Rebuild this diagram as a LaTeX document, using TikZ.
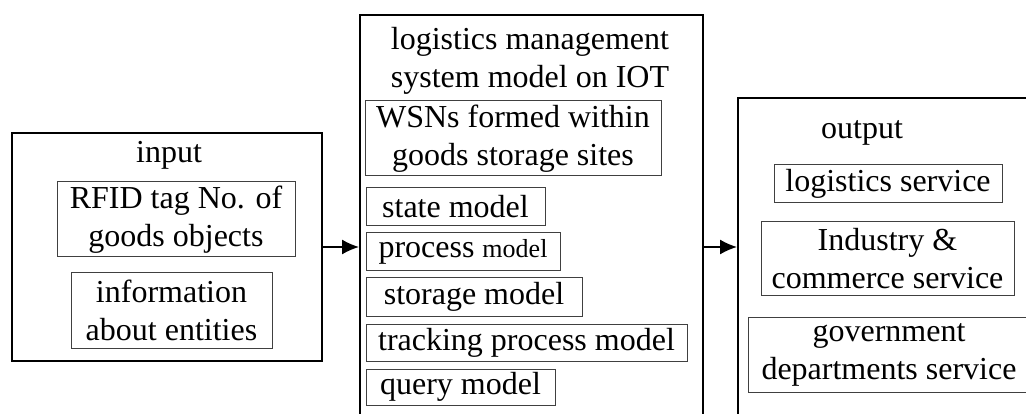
\documentclass[tikz,border=0pt]{standalone}
\usepackage{fontspec}
\setmainfont{Liberation Serif}
\usetikzlibrary{
    arrows.meta,
    positioning
}
\tikzset{
    frame/.style={draw, line width=2pt, inner sep=0pt},
    item/.style={line width=1pt, draw=black!75},
    itemtext/.style={align=center, inner sep=0pt, font=\fontsize{32}{38}\selectfont},
    flow/.style={-{Latex[length=17pt,width=15pt]}, line width=1.5pt}
}

\begin{document}
\begin{tikzpicture}[x=1pt, y=-1pt]

    \useasboundingbox (0, 0) rectangle (1026, 414);
    \clip (0, 0) rectangle (1026, 414);

    % outer frames
    \node[frame, anchor=north west, minimum width=310pt, minimum height=228pt] at (11, 132) (input) {};
    \node[frame, anchor=north west, minimum width=343pt, minimum height=420pt] at (359, 14) (system) {};
    \node[frame, anchor=north west, minimum width=320pt, minimum height=340pt] at (737, 97) (output) {};

    \node[itemtext] at (169, 155) (input-title) {input};
    \node[itemtext] at (530, 61) (system-title) {logistics management\\system model on IOT};
    \node[itemtext] at (862, 133) (output-title) {output};

    % input items
    \draw[item] (57, 182) rectangle (295, 257) node[pos=0.5, itemtext] (rfid) {RFID tag No. of\\goods objects};
    \draw[item] (71, 273) rectangle (272, 348) node[pos=0.5, itemtext] (entities) {information\\about entities};

    % system items
    \draw[item] (365, 101) rectangle (661, 176) node[pos=0.5, itemtext] (wsn) {WSNs formed within\\goods storage sites};
    \draw[item] (366, 188) rectangle (545, 226) node[pos=0.5, itemtext] (state) {state model};
    \draw[item] (366, 233) rectangle (560, 271) node[pos=0.5, itemtext] (process) {process {\fontsize{26}{30}\selectfont model}};
    \draw[item] (366, 278) rectangle (582, 316) node[pos=0.5, itemtext] (storage) {storage model};
    \draw[item] (366, 324) rectangle (687, 361) node[pos=0.5, itemtext] (tracking) {tracking process model};
    \draw[item] (366, 369) rectangle (555, 405) node[pos=0.5, itemtext] (query) {query model};

    % output items
    \draw[item] (774, 165) rectangle (1002, 203) node[pos=0.5, itemtext] (logistics) {logistics service};
    \draw[item] (761, 222) rectangle (1014, 296) node[pos=0.5, itemtext] (commerce) {Industry \&\\commerce service};
    \draw[item] (748, 317) rectangle (1030, 392) node[pos=0.5, itemtext] (government) {government\\departments service};

    \draw[flow] (input.east) -- (input.east -| system.west);
    \draw[flow] (system.east |- input.east) -- (output.west |- input.east);

\end{tikzpicture}
\end{document}
